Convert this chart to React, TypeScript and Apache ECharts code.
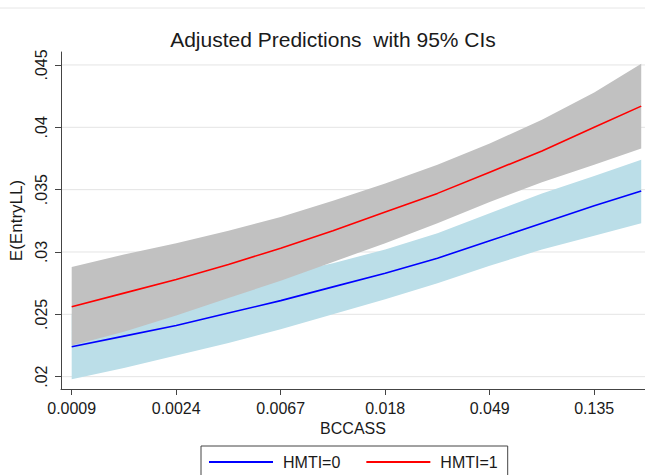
import React, { useEffect, useRef } from "react";
import * as echarts from "echarts";

// x positions: ln(BCCASS)
const lnBCCASS = [-7, -6.5, -6, -5.5, -5, -4.5, -4, -3.5, -3, -2.5, -2, -1.55];

// HMTI = 0
const hmti0Fit = [0.0224, 0.02325, 0.0241, 0.0251, 0.0261, 0.0272, 0.0283, 0.0295, 0.0309, 0.0323, 0.0337, 0.0349];
const hmti0Lo = [0.0198, 0.0207, 0.0217, 0.0227, 0.0238, 0.025, 0.0262, 0.0275, 0.0289, 0.0302, 0.0313, 0.0323];
const hmti0Hi = [0.025, 0.0258, 0.0266, 0.0274, 0.0282, 0.0291, 0.0302, 0.0315, 0.0331, 0.0347, 0.0361, 0.0374];

// HMTI = 1
const hmti1Fit = [0.0256, 0.0267, 0.0278, 0.029, 0.0303, 0.0317, 0.0332, 0.0347, 0.0364, 0.0381, 0.04, 0.0417];
const hmti1Lo = [0.0225, 0.0236, 0.0249, 0.0263, 0.0277, 0.0292, 0.0307, 0.0323, 0.034, 0.0356, 0.037, 0.0383];
const hmti1Hi = [0.0288, 0.0298, 0.0307, 0.0317, 0.0328, 0.0341, 0.0355, 0.037, 0.0387, 0.0406, 0.0428, 0.0451];

const xTickValues = [-7, -6, -5, -4, -3, -2];
const xTickLabels = ["0.0009", "0.0024", "0.0067", "0.018", "0.049", "0.135"];
const yTickValues = [0.02, 0.025, 0.03, 0.035, 0.04, 0.045];
const yTickLabels = [".02", ".025", ".03", ".035", ".04", ".045"];

const X_MIN = -7.1024;
const X_MAX = -1.5139;
const Y_MIN = 0.01901;
const Y_MAX = 0.04604;

const FONT = "'Liberation Sans', Arial, sans-serif";
const TEXT = "#1a1a1a";
const AXIS = "#444";

function band(name: string, lo: number[], hi: number[], color: string, z: number) {
  return {
    type: "custom",
    name,
    z,
    silent: true,
    data: lnBCCASS.map((x, i) => [x, lo[i], hi[i]]),
    encode: { x: 0, y: [1, 2] },
    renderItem: (params: any, api: any) => {
      if (params.dataIndex !== 0) return null;
      const upper = lnBCCASS.map((x, i) => api.coord([x, hi[i]]));
      const lower = lnBCCASS.map((x, i) => api.coord([x, lo[i]])).reverse();
      return {
        type: "polygon",
        shape: { points: upper.concat(lower) },
        style: { fill: color, stroke: null },
      };
    },
  };
}

export default function App() {
  const ref = useRef<HTMLDivElement>(null);
  useEffect(() => {
    if (!ref.current) return;
    const chart = echarts.init(ref.current, null, { renderer: "svg" });
    const option: any = {
      animation: false,
      backgroundColor: "#ffffff",
      textStyle: { fontFamily: FONT },
      grid: { left: 61, top: 52, right: 0, bottom: 86, containLabel: false },
      graphic: [
        {
          type: "line",
          shape: { x1: 0, y1: 8, x2: 645, y2: 8 },
          style: { stroke: "#e6e6e6", lineWidth: 1 },
        },
        {
          type: "text",
          x: 333,
          y: 39,
          style: {
            text: "Adjusted Predictions  with 95% CIs",
            font: `21px ${FONT}`,
            fill: TEXT,
            textAlign: "center",
            textVerticalAlign: "middle",
          },
        },
      ],
      legend: {
        data: ["HMTI=0", "HMTI=1"],
        left: 201,
        top: 446,
        orient: "horizontal",
        icon: "rect",
        borderColor: AXIS,
        borderWidth: 1,
        borderRadius: 0,
        padding: [8, 10, 10, 8],
        itemWidth: 64,
        itemHeight: 2,
        itemGap: 26,
        textStyle: { fontSize: 16, color: TEXT, fontFamily: FONT, padding: [0, 0, 0, 5] },
      },
      xAxis: {
        type: "value",
        min: X_MIN,
        max: X_MAX,
        name: "BCCASS",
        nameLocation: "middle",
        nameGap: 27,
        nameTextStyle: { fontSize: 16, color: TEXT, fontFamily: FONT, verticalAlign: "top" },
        axisLine: { show: true, onZero: false, lineStyle: { color: AXIS, width: 1 } },
        axisTick: { show: true, length: 6, lineStyle: { color: AXIS }, customValues: xTickValues },
        axisLabel: {
          customValues: xTickValues,
          formatter: (v: number) => {
            const i = xTickValues.findIndex((t) => Math.abs(t - v) < 1e-9);
            return i >= 0 ? xTickLabels[i] : "";
          },
          fontSize: 16,
          color: TEXT,
          fontFamily: FONT,
          margin: 11,
        },
        splitLine: { show: false },
      },
      yAxis: {
        type: "value",
        min: Y_MIN,
        max: Y_MAX,
        name: "E(EntryLL)",
        nameLocation: "middle",
        nameGap: 33,
        nameRotate: 90,
        nameTextStyle: { fontSize: 17, color: TEXT, fontFamily: FONT },
        axisLine: { show: true, onZero: false, lineStyle: { color: AXIS, width: 1 } },
        axisTick: { show: true, length: 6, lineStyle: { color: AXIS }, customValues: yTickValues },
        axisLabel: {
          customValues: yTickValues,
          rotate: 90,
          formatter: (v: number) => {
            const i = yTickValues.findIndex((t) => Math.abs(t - v) < 1e-9);
            return i >= 0 ? yTickLabels[i] : "";
          },
          fontSize: 16,
          color: TEXT,
          fontFamily: FONT,
          margin: 12,
        },
        splitLine: { show: false },
      },
      series: [
        {
          type: "custom",
          name: "grid",
          z: 0,
          silent: true,
          data: yTickValues.map((v) => [X_MIN, v]),
          encode: { x: 0, y: 1 },
          renderItem: (params: any, api: any) => {
            const v = api.value(1);
            const p1 = api.coord([X_MIN, v]);
            const p2 = api.coord([X_MAX, v]);
            return {
              type: "line",
              shape: { x1: p1[0], y1: p1[1], x2: p2[0], y2: p2[1] },
              style: { stroke: "#e4e4e4", lineWidth: 1 },
            };
          },
        },
        band("ci0", hmti0Lo, hmti0Hi, "#bbdee8", 1),
        band("ci1", hmti1Lo, hmti1Hi, "#c1c1c1", 2),
        {
          type: "line",
          name: "HMTI=0",
          z: 5,
          symbol: "none",
          showSymbol: false,
          data: lnBCCASS.map((x, i) => [x, hmti0Fit[i]]),
          lineStyle: { color: "#0000ff", width: 1.6 },
          itemStyle: { color: "#0000ff" },
        },
        {
          type: "line",
          name: "HMTI=1",
          z: 5,
          symbol: "none",
          showSymbol: false,
          data: lnBCCASS.map((x, i) => [x, hmti1Fit[i]]),
          lineStyle: { color: "#ff0000", width: 1.6 },
          itemStyle: { color: "#ff0000" },
        },
      ],
    };
    chart.setOption(option);
    return () => chart.dispose();
  }, []);
  return (
    <div
      ref={ref}
      style={{ position: "absolute", left: 0, top: 0, width: 645, height: 475 }}
    />
  );
}
